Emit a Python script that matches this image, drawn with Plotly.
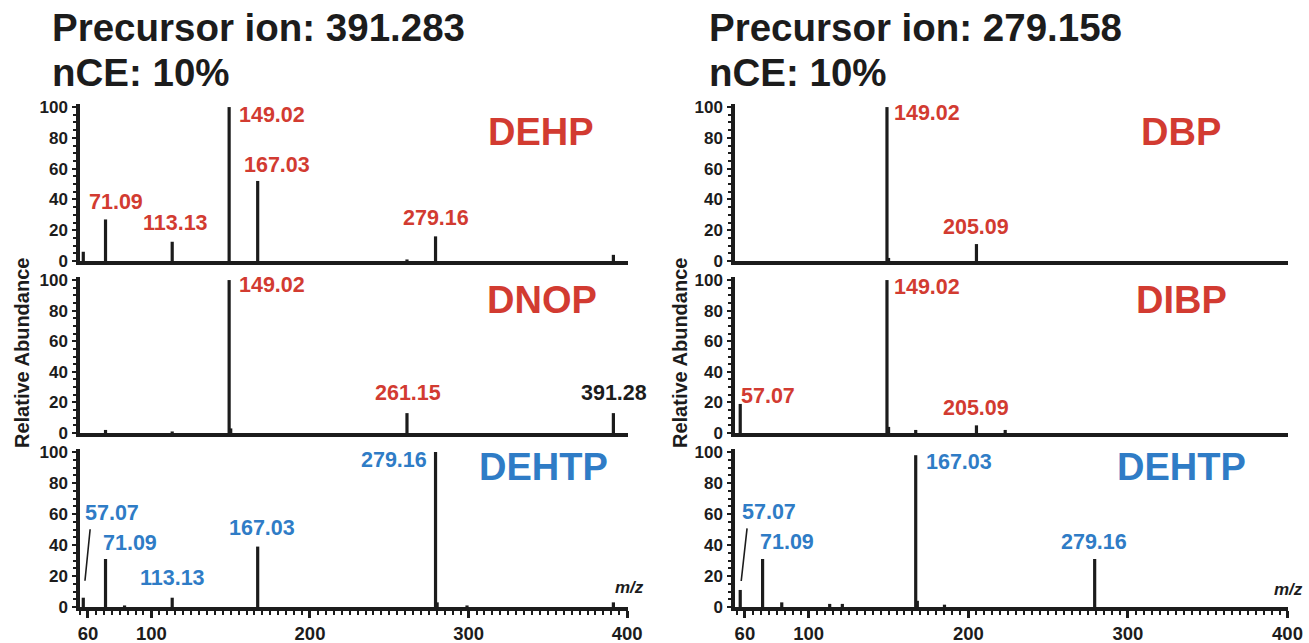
import plotly.graph_objects as go

# ---------------- data ----------------
dehp_mz = [57.07, 71.09, 113.13, 149.02, 167.03, 261.15, 279.16, 391.28]
dehp_ab = [6, 27, 12.5, 100, 52, 1, 16, 4]
dehp_labels = [71.09, 113.13, 149.02, 167.03, 279.16]

dnop_mz = [71.09, 113.13, 149.02, 150.02, 261.15, 391.28]
dnop_ab = [2, 1, 100, 3, 13, 13]
dnop_labels = [149.02, 261.15, 391.28]

dehtp_a_mz = [57.07, 71.09, 83.09, 113.13, 167.03, 279.16, 280.16, 299.0, 391.28]
dehtp_a_ab = [6, 31, 1, 6, 39, 100, 3, 1, 3]
dehtp_a_labels = [57.07, 71.09, 113.13, 167.03, 279.16]

dbp_mz = [149.02, 150.02, 205.09]
dbp_ab = [100, 2, 11]
dbp_labels = [149.02, 205.09]

dibp_mz = [57.07, 149.02, 150.02, 167.03, 205.09, 223.10]
dibp_ab = [19, 100, 4, 2, 5, 2]
dibp_labels = [57.07, 149.02, 205.09]

dehtp_b_mz = [57.07, 71.09, 83.09, 113.13, 121.06, 167.03, 168.03, 185.06, 279.16]
dehtp_b_ab = [11, 31, 3, 2, 2, 98, 4, 1.5, 31]
dehtp_b_labels = [57.07, 71.09, 167.03, 279.16]

compounds = ["DEHP", "DNOP", "DEHTP", "DBP", "DIBP", "DEHTP"]
precursors = ["391.283", "279.158"]
nce = "10%"
x_ticks = [60, 100, 200, 300, 400]
y_ticks = [0, 20, 40, 60, 80, 100]

# ---------------- style / layout ----------------
W, H = 1309, 643
FONT = "Liberation Sans, Arial, sans-serif"
BLACK = "#1c1c1c"
RED = "#d23b31"
BLUE = "#2f7cc6"

def px(x):
    return x / W

def py(y):
    return 1 - y / H

col_px = [(80, 628), (735, 1288)]
row_px = [(104, 261), (277, 433), (449, 607)]
x_ranges = [[55, 400.5], [53.8, 400.3]]
y_range = [0, 102]

panels = [
    (dehp_mz, dehp_ab, dehp_labels),
    (dnop_mz, dnop_ab, dnop_labels),
    (dehtp_a_mz, dehtp_a_ab, dehtp_a_labels),
    (dbp_mz, dbp_ab, dbp_labels),
    (dibp_mz, dibp_ab, dibp_labels),
    (dehtp_b_mz, dehtp_b_ab, dehtp_b_labels),
]

# label offsets in pixels (dx right, dy up) of label centre from peak top
label_offsets = {
    (0, 71.09): (10, 17), (0, 113.13): (3, 19), (0, 149.02): (43, -8),
    (0, 167.03): (19, 16), (0, 279.16): (0, 18),
    (1, 149.02): (43, -5), (1, 261.15): (1, 20), (1, 391.28): (1, 20),
    (2, 57.07): (29, 85), (2, 71.09): (24, 16), (2, 113.13): (0, 20),
    (2, 167.03): (4, 19), (2, 279.16): (-42, -8),
    (3, 149.02): (40, -6), (3, 205.09): (0, 17),
    (4, 57.07): (28, 8), (4, 149.02): (40, -7), (4, 205.09): (0, 17),
    (5, 57.07): (29, 78), (5, 71.09): (24, 17), (5, 167.03): (43, -7),
    (5, 279.16): (-1, 17),
}
# leader lines (tail offset dx, dy in px from peak top, standoff px)
leaders = {(2, 57.07): (7, -70, 17), (5, 57.07): (7, -63, 9)}
compound_pos = [(541, 132), (542, 300), (543, 467), (1181, 132), (1181, 300), (1181, 467)]

fig = go.Figure()
annotations = []
layout = {}

for i, (mz, ab, labs) in enumerate(panels):
    col, row = divmod(i, 3)
    n = i + 1
    xa = "x" if n == 1 else f"x{n}"
    ya = "y" if n == 1 else f"y{n}"
    xs, ys = [], []
    for m, a in zip(mz, ab):
        xs += [m, m, None]
        ys += [0, a, None]
    fig.add_trace(go.Scatter(x=xs, y=ys, mode="lines", xaxis=xa, yaxis=ya,
                             line=dict(color=BLACK, width=3.2),
                             showlegend=False, hoverinfo="skip"))
    bottom = row == 2
    xdict = dict(
        domain=[px(col_px[col][0]), px(col_px[col][1])], automargin=False,
        range=x_ranges[col], anchor=ya, showgrid=False, zeroline=False,
        showline=True, linewidth=3.5, linecolor=BLACK,
    )
    if bottom:
        xdict.update(tickmode="array", tickvals=x_ticks,
                     ticktext=[str(t) for t in x_ticks],
                     ticks="outside", ticklen=7, tickwidth=2.5, tickcolor=BLACK,
                     tickfont=dict(family=FONT, size=18.5, color=BLACK, weight="bold"),
                     minor=dict(tickmode="linear", tick0=0, dtick=5, ticks="outside",
                                ticklen=4, tickwidth=2, tickcolor=BLACK))
    else:
        xdict.update(showticklabels=False, ticks="")
    layout["xaxis" if n == 1 else f"xaxis{n}"] = xdict

    top_px, zero_px = row_px[row]
    layout["yaxis" if n == 1 else f"yaxis{n}"] = dict(
        domain=[py(zero_px), py(top_px)], range=y_range, anchor=xa, automargin=False,
        showgrid=False, zeroline=False, showline=True, linewidth=3.5, linecolor=BLACK,
        tickmode="array", tickvals=y_ticks, ticks="outside", ticklen=4, tickwidth=2,
        tickcolor=BLACK, ticklabelstandoff=1,
        tickfont=dict(family=FONT, size=17, color=BLACK, weight="bold"),
        minor=dict(tickmode="linear", tick0=0, dtick=5, ticks="outside", ticklen=3,
                   tickwidth=1.5, tickcolor=BLACK),
    )

    color = BLUE if row == 2 else RED
    for m in labs:
        h = ab[mz.index(m)]
        dx, dy = label_offsets[(i, m)]
        c = BLACK if (col == 0 and row == 1 and m == 391.28) else color
        annotations.append(dict(
            x=m, y=h, xref=xa, yref=ya, text=f"{m:.2f}", showarrow=False,
            xanchor="center", yanchor="middle", xshift=dx, yshift=dy,
            font=dict(family=FONT, size=21.5, color=c, weight="bold")))
        if (i, m) in leaders:
            ax, ay, so = leaders[(i, m)]
            annotations.append(dict(
                x=m, y=h, xref=xa, yref=ya, text="", showarrow=True, arrowhead=0,
                arrowwidth=1.6, arrowcolor=BLACK, ax=ax, ay=ay, standoff=so))

    cx, cy = compound_pos[i]
    annotations.append(dict(
        x=px(cx), y=py(cy), xref="paper", yref="paper", text=compounds[i],
        showarrow=False, xanchor="center", yanchor="middle",
        font=dict(family=FONT, size=38, color=BLUE if row == 2 else RED, weight="bold")))

for col, x0 in enumerate([50, 707]):
    annotations.append(dict(
        x=px(x0), y=py(28), xref="paper", yref="paper",
        text=f"Precursor ion: {precursors[col]}", showarrow=False,
        xanchor="left", yanchor="middle",
        font=dict(family=FONT, size=38.5, color=BLACK, weight="bold")))
    annotations.append(dict(
        x=px(x0), y=py(72), xref="paper", yref="paper", text=f"nCE: {nce}",
        showarrow=False, xanchor="left", yanchor="middle",
        font=dict(family=FONT, size=38.5, color=BLACK, weight="bold")))

for xpos in [22, 680]:
    annotations.append(dict(
        x=px(xpos), y=py(353), xref="paper", yref="paper",
        text="Relative Abundance", showarrow=False, textangle=-90,
        xanchor="center", yanchor="middle",
        font=dict(family=FONT, size=20, color=BLACK, weight="bold")))

for xpos, ypos in [(629, 587), (1288, 589)]:
    annotations.append(dict(
        x=px(xpos), y=py(ypos), xref="paper", yref="paper", text="<i>m/z</i>",
        showarrow=False, xanchor="center", yanchor="middle",
        font=dict(family=FONT, size=17, color=BLACK, weight="bold")))

fig.update_layout(
    width=W, height=H, margin=dict(l=0, r=0, t=0, b=0, autoexpand=False),
    paper_bgcolor="white", plot_bgcolor="white", showlegend=False,
    annotations=annotations, **layout)

fig.write_html("out.html")
